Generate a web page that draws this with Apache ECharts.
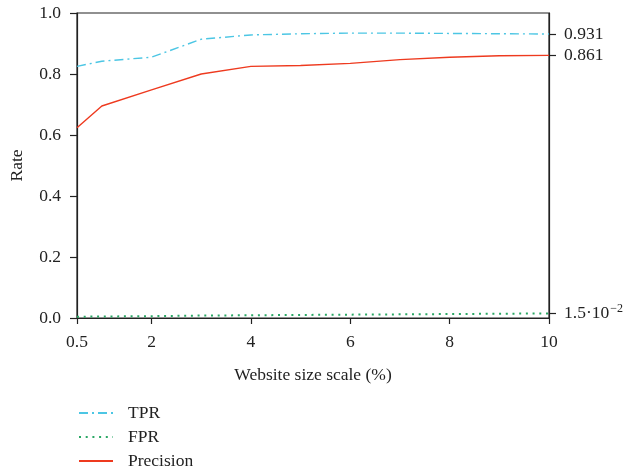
<!DOCTYPE html>
<html>
<head>
<meta charset="utf-8">
<script src="https://cdn.jsdelivr.net/npm/echarts@6/dist/echarts.min.js"></script>
<style>
  html, body { margin: 0; padding: 0; background: #fff; }
  #chart { width: 639px; height: 472px; }
</style>
</head>
<body>
<div id="chart"></div>
<script>
// Website size scale (%) sampled along the x axis
const scales = [0.5, 1, 2, 3, 4, 5, 6, 7, 8, 9, 10];
const tpr = [0.825, 0.842, 0.855, 0.914, 0.928, 0.932, 0.934, 0.934, 0.933, 0.932, 0.931];
const fpr = [0.004, 0.005, 0.006, 0.008, 0.009, 0.010, 0.011, 0.012, 0.013, 0.014, 0.015];
const precision = [0.624, 0.695, 0.748, 0.800, 0.825, 0.828, 0.835, 0.847, 0.855, 0.860, 0.861];

const xTicks = [0.5, 2, 4, 6, 8, 10];
const yTicks = [0, 0.2, 0.4, 0.6, 0.8, 1.0];
// final values marked on the right-hand axis
const endMarks = [fpr[fpr.length - 1], precision[precision.length - 1], tpr[tpr.length - 1]];

const FONT = 'Liberation Serif';
const FS = 17.5;
const INK = '#222';
const pair = arr => scales.map((x, i) => [x, arr[i]]);

const chart = echarts.init(document.getElementById('chart'));
chart.setOption({
  animation: false,
  textStyle: { fontFamily: FONT, color: INK },
  grid: {
    left: 77, right: 90, top: 13, bottom: 154,
    show: true, borderColor: INK, borderWidth: 1.2, backgroundColor: 'transparent'
  },
  legend: {
    orient: 'vertical',
    left: 78, top: 404,
    padding: 0,
    itemWidth: 34, itemHeight: 14, itemGap: 6,
    itemStyle: { opacity: 0 },
    textStyle: { fontFamily: FONT, fontSize: FS, lineHeight: 18, color: INK, padding: [0, 0, 0, 10] },
    data: ['TPR', 'FPR', 'Precision']
  },
  xAxis: {
    type: 'value',
    min: 0.5, max: 10,
    name: 'Website size scale (%)',
    nameLocation: 'middle',
    nameGap: 48,
    nameTextStyle: { fontFamily: FONT, fontSize: FS, color: INK },
    axisLine: { show: true, lineStyle: { color: INK, width: 1.2 } },
    axisTick: { show: true, customValues: xTicks, length: 6, lineStyle: { color: INK, width: 1.2 } },
    axisLabel: {
      customValues: xTicks, margin: 15,
      fontFamily: FONT, fontSize: FS, color: INK,
      formatter: v => String(v)
    },
    splitLine: { show: false }
  },
  yAxis: [
    {
      type: 'value',
      min: 0, max: 1, interval: 0.2,
      name: 'Rate',
      nameLocation: 'middle',
      nameGap: 51,
      nameTextStyle: { fontFamily: FONT, fontSize: FS, color: INK },
      axisLine: { show: true, lineStyle: { color: INK, width: 1.2 } },
      axisTick: { show: true, customValues: yTicks, length: 7, lineStyle: { color: INK, width: 1.2 } },
      axisLabel: {
        customValues: yTicks, margin: 16,
        fontFamily: FONT, fontSize: FS, color: INK,
        formatter: v => v.toFixed(1)
      },
      splitLine: { show: false }
    },
    {
      type: 'value',
      position: 'right',
      min: 0, max: 1,
      axisLine: { show: true, lineStyle: { color: INK, width: 1.2 } },
      axisTick: { show: true, customValues: endMarks, length: 7, lineStyle: { color: INK, width: 1.2 } },
      axisLabel: {
        customValues: endMarks, margin: 15,
        fontFamily: FONT, fontSize: FS, color: INK,
        formatter: v => v < 0.1
          ? '{b|1.5\u00B710}{sup|\u22122}'
          : v.toFixed(3),
        rich: {
          b: { fontFamily: FONT, fontSize: FS, color: INK },
          sup: { fontFamily: FONT, fontSize: 12, color: INK, padding: [0, 0, 10, 1] }
        }
      },
      splitLine: { show: false }
    }
  ],
  series: [
    {
      name: 'TPR', type: 'line', data: pair(tpr),
      symbol: 'none', color: '#4cc6e4',
      lineStyle: { color: '#4cc6e4', width: 1.4, type: [9, 4, 2, 4] }
    },
    {
      name: 'FPR', type: 'line', data: pair(fpr),
      symbol: 'none', color: '#2aa865',
      lineStyle: { color: '#2aa865', width: 2, type: [2, 4.7] }
    },
    {
      name: 'Precision', type: 'line', data: pair(precision),
      symbol: 'none', color: '#ee3a1f',
      lineStyle: { color: '#ee3a1f', width: 1.4 }
    }
  ]
});
</script>
</body>
</html>
